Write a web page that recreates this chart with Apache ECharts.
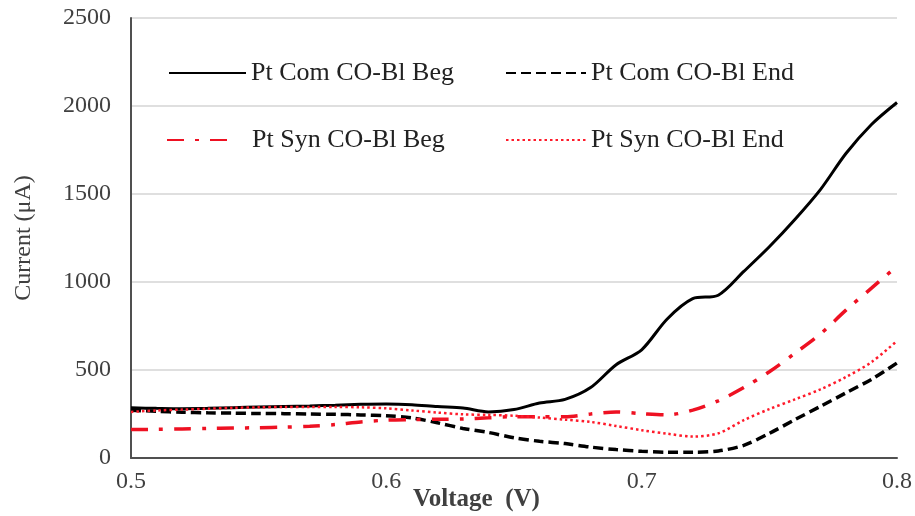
<!DOCTYPE html>
<html>
<head>
<meta charset="utf-8">
<script src="https://cdn.jsdelivr.net/npm/echarts@6/dist/echarts.min.js"></script>
<style>html,body{margin:0;padding:0;background:#fff}#c{width:915px;height:516px}</style>
</head>
<body>
<div id="c"></div>
<script>
const voltage = [0.50,0.51,0.52,0.53,0.54,0.55,0.56,0.57,0.58,0.59,0.60,0.61,0.62,0.63,0.64,0.65,0.66,0.67,0.68,0.69,0.70,0.71,0.72,0.73,0.74,0.75,0.76,0.77,0.78,0.79,0.80];
const comBeg = [285,282,280,282,286,290,293,296,300,305,307,303,292,284,262,275,312,333,400,530,615,790,905,925,1060,1200,1355,1525,1730,1895,2020];
const comEnd = [272,265,260,257,255,253,252,250,248,245,240,228,200,168,145,115,95,82,62,48,38,33,33,40,72,140,218,293,370,447,540];
const synBeg = [162,163,165,168,170,172,175,180,190,205,215,218,220,222,228,235,235,234,250,262,252,245,272,325,400,490,595,705,840,965,1090];
const synEnd = [262,270,275,280,285,288,290,290,290,288,282,270,258,248,245,240,230,218,205,182,158,138,122,140,215,278,333,390,460,545,665];
const seriesNames = ['Pt Com CO-Bl Beg','Pt Com CO-Bl End','Pt Syn CO-Bl Beg','Pt Syn CO-Bl End'];
const yTicks = [0,500,1000,1500,2000,2500];
const xTicks = [0.5,0.6,0.7,0.8];

const FONT = '"Liberation Serif","Times New Roman",serif';
const pairs = arr => voltage.map((v,i)=>[v,arr[i]]);
const chart = echarts.init(document.getElementById('c'));

function legendAt(name, left, top, itemWidth, textPad){
  return {
    data:[name], left:left, top:top, padding:0, itemWidth:itemWidth, itemHeight:16,
    selectedMode:false,
    itemStyle:{color:'rgba(0,0,0,0)', borderWidth:0, borderColor:'rgba(0,0,0,0)'},
    textStyle:{fontFamily:FONT, fontSize:26, color:'#222', padding:[0,0,0,textPad]}
  };
}

chart.setOption({
  animation:false,
  backgroundColor:'#fff',
  grid:{left:131, right:18, top:18, bottom:58, containLabel:false},
  legend:[
    legendAt(seriesNames[0],168,60,77,0),
    legendAt(seriesNames[1],505,60,80,0),
    legendAt(seriesNames[2],166,127,63,17),
    legendAt(seriesNames[3],505,127,80,0)
  ],
  xAxis:{type:'value', min:xTicks[0], max:xTicks[xTicks.length-1], interval:0.1,
    axisLine:{lineStyle:{color:'#505050', width:2}},
    axisTick:{show:false}, splitLine:{show:false},
    axisLabel:{fontFamily:FONT, fontSize:24, color:'#404040', margin:12, formatter:v=>v.toFixed(1)}
  },
  yAxis:{type:'value', min:yTicks[0], max:yTicks[yTicks.length-1], interval:500,
    axisLine:{show:true, lineStyle:{color:'#505050', width:2}},
    axisTick:{show:false},
    splitLine:{lineStyle:{color:'#d4d4d4', width:1.5}},
    axisLabel:{fontFamily:FONT, fontSize:24, color:'#404040', margin:20, formatter:v=>String(v)}
  },
  graphic:[
    {type:'text', left:413, top:487, style:{text:'Voltage  (V)', font:'bold 25px '+FONT, fill:'#404040'}},
    {type:'text', x:24, y:238, rotation:Math.PI/2, style:{text:'Current (μA)', font:'24px '+FONT, fill:'#404040', align:'center', verticalAlign:'middle'}}
  ],
  series:[
    {name:seriesNames[0], type:'line', data:pairs(comBeg), smooth:0.3, symbol:'none', lineStyle:{color:'#000', width:3, type:'solid'}, itemStyle:{color:'#000'}},
    {name:seriesNames[1], type:'line', data:pairs(comEnd), smooth:0.3, symbol:'none', lineStyle:{color:'#000', width:3.5, type:[10,5]}, itemStyle:{color:'#000'}},
    {name:seriesNames[2], type:'line', data:pairs(synBeg), smooth:0.3, symbol:'none', lineStyle:{color:'#ee1122', width:3.5, type:[17,11,4,11]}, itemStyle:{color:'#ee1122'}},
    {name:seriesNames[3], type:'line', data:pairs(synEnd), smooth:0.3, symbol:'none', lineStyle:{color:'#ff1a2a', width:2.5, type:[2.5,3]}, itemStyle:{color:'#ff1a2a'}}
  ]
});
</script>
</body>
</html>
